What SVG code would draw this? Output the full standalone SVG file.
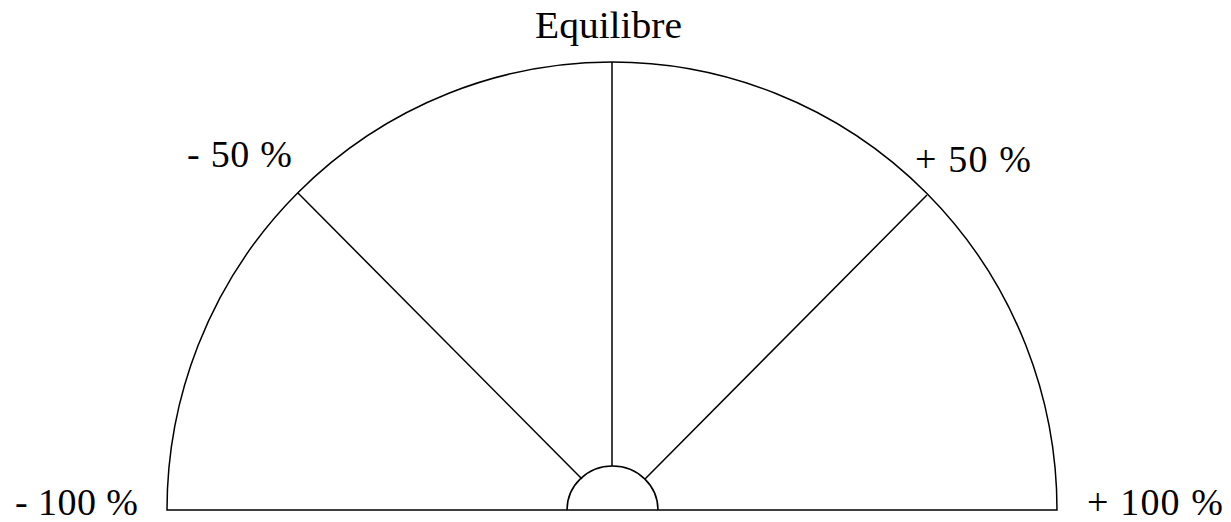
<svg xmlns="http://www.w3.org/2000/svg" width="1231" height="522" viewBox="0 0 1231 522">
<style>
.ln{fill:none;stroke:#000;stroke-width:1.5}
.t{font-family:"Liberation Serif","Times New Roman",serif;font-size:38px;fill:#000}
</style>
<rect width="1231" height="522" fill="#fff"/>
<g id="gauge">
<path class="ln" d="M167,510 A445,448 0 0 1 1057,510 Z"/>
<path class="ln" d="M567,510 A45.5,44 0 0 1 658,510"/>
</g>
<g id="connectors">
<line class="ln" x1="612" y1="62" x2="612" y2="466"/>
<line class="ln" x1="298" y1="193" x2="582" y2="479"/>
<line class="ln" x1="927" y1="195" x2="645" y2="479"/>
</g>
<g id="label-equilibre"><text class="t" x="535" y="38" textLength="147" lengthAdjust="spacingAndGlyphs">Equilibre</text></g>
<g id="label-m50"><text class="t" x="187" y="167" textLength="105" lengthAdjust="spacing">- 50 %</text></g>
<g id="label-p50"><text class="t" x="915" y="172" textLength="116" lengthAdjust="spacing">+ 50 %</text></g>
<g id="label-m100"><text class="t" x="15" y="515" textLength="123" lengthAdjust="spacing">- 100 %</text></g>
<g id="label-p100"><text class="t" x="1087" y="515" textLength="136" lengthAdjust="spacing">+ 100 %</text></g>
</svg>
